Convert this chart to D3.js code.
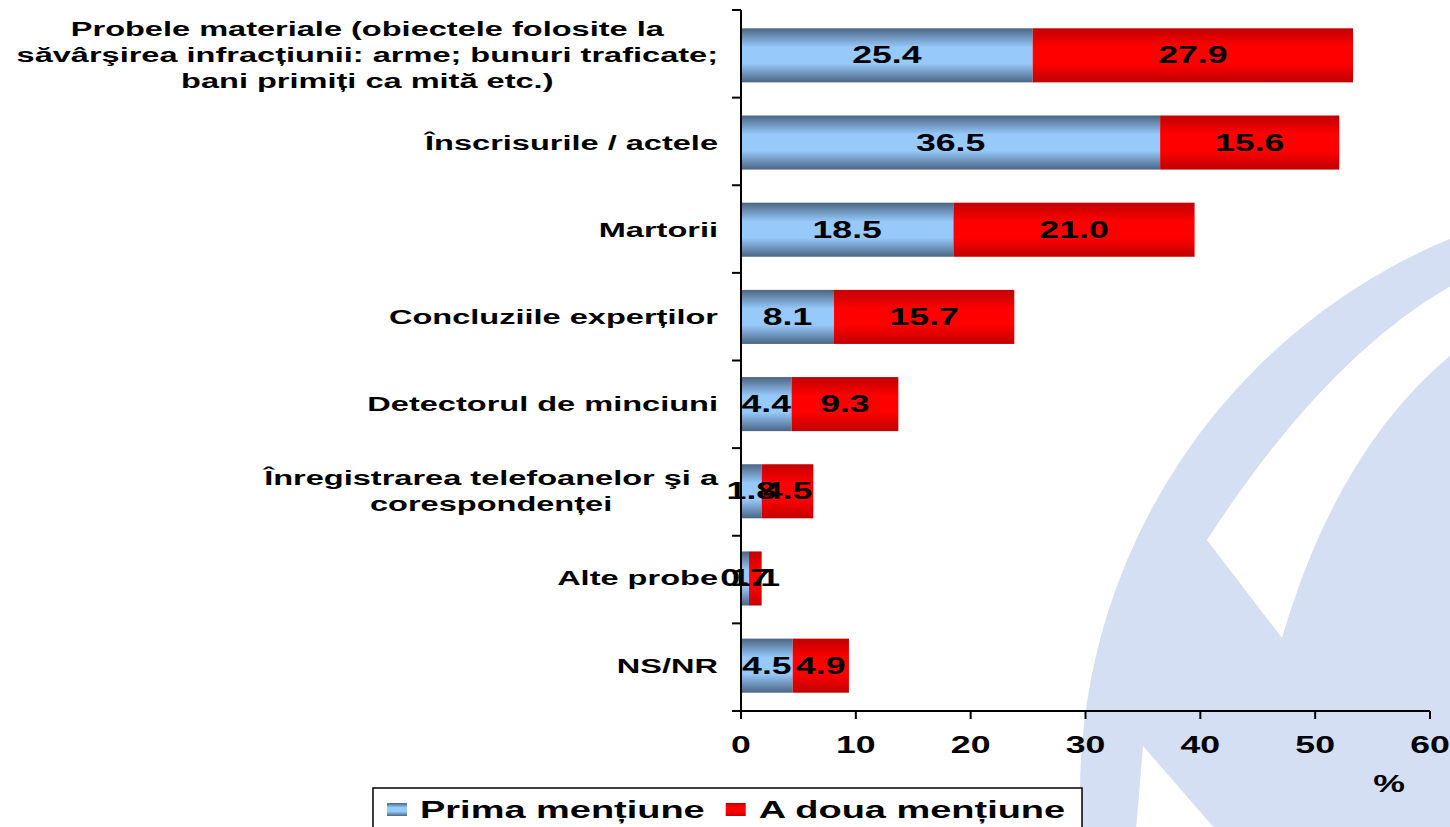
<!DOCTYPE html>
<html>
<head>
<meta charset="utf-8">
<script src="https://cdn.jsdelivr.net/npm/d3@7"></script>
<style>
  body { margin: 0; background: #fff; }
  text { font-family: "Liberation Sans", Arial, sans-serif; font-weight: bold; fill: #000; }
</style>
</head>
<body>
<div id="chart"></div>
<script>
//categories, top to bottom (lines of each label)
const categories = [
  ["Probele materiale (obiectele folosite la", "săvârşirea infracțiunii: arme; bunuri traficate;", "bani primiți ca mită etc.)"],
  ["Înscrisurile / actele"],
  ["Martorii"],
  ["Concluziile experților"],
  ["Detectorul de minciuni"],
  ["Înregistrarea telefoanelor şi a", "corespondenței"],
  ["Alte probe"],
  ["NS/NR"],
];

//series values
const primaMentiune = [25.4, 36.5, 18.5, 8.1, 4.4, 1.8, 0.7, 4.5];
const aDouaMentiune = [27.9, 15.6, 21.0, 15.7, 9.3, 4.5, 1.1, 4.9];

const seriesNames = ["Prima mențiune", "A doua mențiune"];
const xTicks = [0, 10, 20, 30, 40, 50, 60];

//size
const width = 1450;
const height = 827;
const plot = { left: 741, right: 1430, top: 10, bottom: 711 };
//the source picture is stretched horizontally
const SX = 1.55;

const svg = d3
  .select("#chart")
  .append("svg")
  .attr("width", width)
  .attr("height", height);

//gradients for bars
const defs = svg.append("defs");
function addGradient(id, edge, mid) {
  const grad = defs
    .append("linearGradient")
    .attr("id", id)
    .attr("x1", 0).attr("y1", 0).attr("x2", 0).attr("y2", 1);
  [[0, edge], [0.35, mid], [0.65, mid], [1, edge]].forEach(([o, c]) => {
    grad.append("stop").attr("offset", o).attr("stop-color", c);
  });
}
addGradient("gBlue", "#4b6684", "#97c9fb");
addGradient("gRed", "#c00000", "#ff0000");
const fills = ["url(#gBlue)", "url(#gRed)"];

//background watermark
const wm = svg.append("g").attr("class", "watermark");
wm.append("circle").attr("cx", 1680).attr("cy", 793).attr("r", 600).attr("fill", "#d4dff4");
wm.append("path")
  .attr("d", "M1462 280 Q1330 350 1207 540 L1282 638 Q1340 440 1462 346 Z")
  .attr("fill", "#fff");
wm.append("path")
  .attr("d", "M1143 746 L1216 830 L1136 830 Z")
  .attr("fill", "#fff");

//scales
const x = d3.scaleLinear().domain([0, 60]).range([plot.left, plot.right]);
const y = d3
  .scaleBand()
  .domain(d3.range(categories.length))
  .range([plot.top, plot.bottom])
  .paddingInner(0.38)
  .paddingOuter(0.21);

//stretched text helper
function stretchedText(g, px, py, str, size, anchor) {
  const t = g
    .append("g")
    .attr("transform", `translate(${px},${py})`)
    .append("text")
    .attr("transform", `scale(${SX},1)`)
    .attr("font-size", size)
    .attr("text-anchor", anchor)
    .text(str);
  return t;
}

//stacked data
const stacked = d3
  .stack()
  .keys([0, 1])(
    categories.map((c, i) => ({ 0: primaMentiune[i], 1: aDouaMentiune[i] }))
  );

//bars
const bars = svg.append("g").attr("class", "bars");
stacked.forEach((s, si) => {
  bars
    .selectAll(`rect.s${si}`)
    .data(s)
    .join("rect")
    .attr("class", `s${si}`)
    .attr("x", (d) => x(d[0]))
    .attr("y", (d, i) => y(i))
    .attr("width", (d) => x(d[1]) - x(d[0]))
    .attr("height", y.bandwidth())
    .attr("fill", fills[si]);
});

//value labels
const labels = svg.append("g").attr("class", "labels");
stacked.forEach((s) => {
  s.forEach((d, i) => {
    stretchedText(
      labels,
      (x(d[0]) + x(d[1])) / 2,
      y(i) + y.bandwidth() / 2 + 8,
      (d[1] - d[0]).toFixed(1),
      23,
      "middle"
    );
  });
});

//axes lines
const axis = svg.append("g").attr("stroke", "#000").attr("stroke-width", 2);
axis.append("line").attr("x1", plot.left).attr("x2", plot.left).attr("y1", plot.top).attr("y2", plot.bottom);
axis.append("line").attr("x1", plot.left).attr("x2", plot.right).attr("y1", plot.bottom).attr("y2", plot.bottom);

//y ticks at category boundaries
const step = (plot.bottom - plot.top) / categories.length;
axis
  .selectAll("line.ytick")
  .data(d3.range(categories.length + 1))
  .join("line")
  .attr("class", "ytick")
  .attr("x1", plot.left - 9)
  .attr("x2", plot.left)
  .attr("y1", (d) => plot.top + d * step)
  .attr("y2", (d) => plot.top + d * step);

//x ticks
axis
  .selectAll("line.xtick")
  .data(xTicks)
  .join("line")
  .attr("class", "xtick")
  .attr("x1", (d) => x(d))
  .attr("x2", (d) => x(d))
  .attr("y1", plot.bottom)
  .attr("y2", plot.bottom + 8);

const tickText = svg.append("g");
xTicks.forEach((d) => stretchedText(tickText, x(d), 753, d, 23, "middle"));
stretchedText(tickText, 1389, 792, "%", 23, "middle");

//category labels
const catG = svg.append("g").attr("class", "categories");
const labelRight = 718;
const lineGap = 26;
categories.forEach((lines, i) => {
  const cy = y(i) + y.bandwidth() / 2;
  const group = catG.append("g");
  const texts = lines.map((l, j) =>
    stretchedText(group, 0, cy + (j - (lines.length - 1) / 2) * lineGap + 7, l, 21, "middle")
  );
  const maxW = d3.max(texts, (t) => t.node().getComputedTextLength()) * SX;
  group.attr("transform", `translate(${labelRight - maxW / 2},0)`);
});

//legend
const legend = svg.append("g").attr("class", "legend");
legend
  .append("rect")
  .attr("x", 373)
  .attr("y", 788)
  .attr("width", 709)
  .attr("height", 60)
  .attr("fill", "#fff")
  .attr("stroke", "#000")
  .attr("stroke-width", 1.5);
let lx = 387;
seriesNames.forEach((name, i) => {
  legend
    .append("rect")
    .attr("x", lx)
    .attr("y", 803)
    .attr("width", 20)
    .attr("height", 13)
    .attr("fill", fills[i]);
  const t = stretchedText(legend, lx + 33, 818, name, 24.5, "start");
  lx += 33 + t.node().getComputedTextLength() * SX + 21;
});
</script>
</body>
</html>
